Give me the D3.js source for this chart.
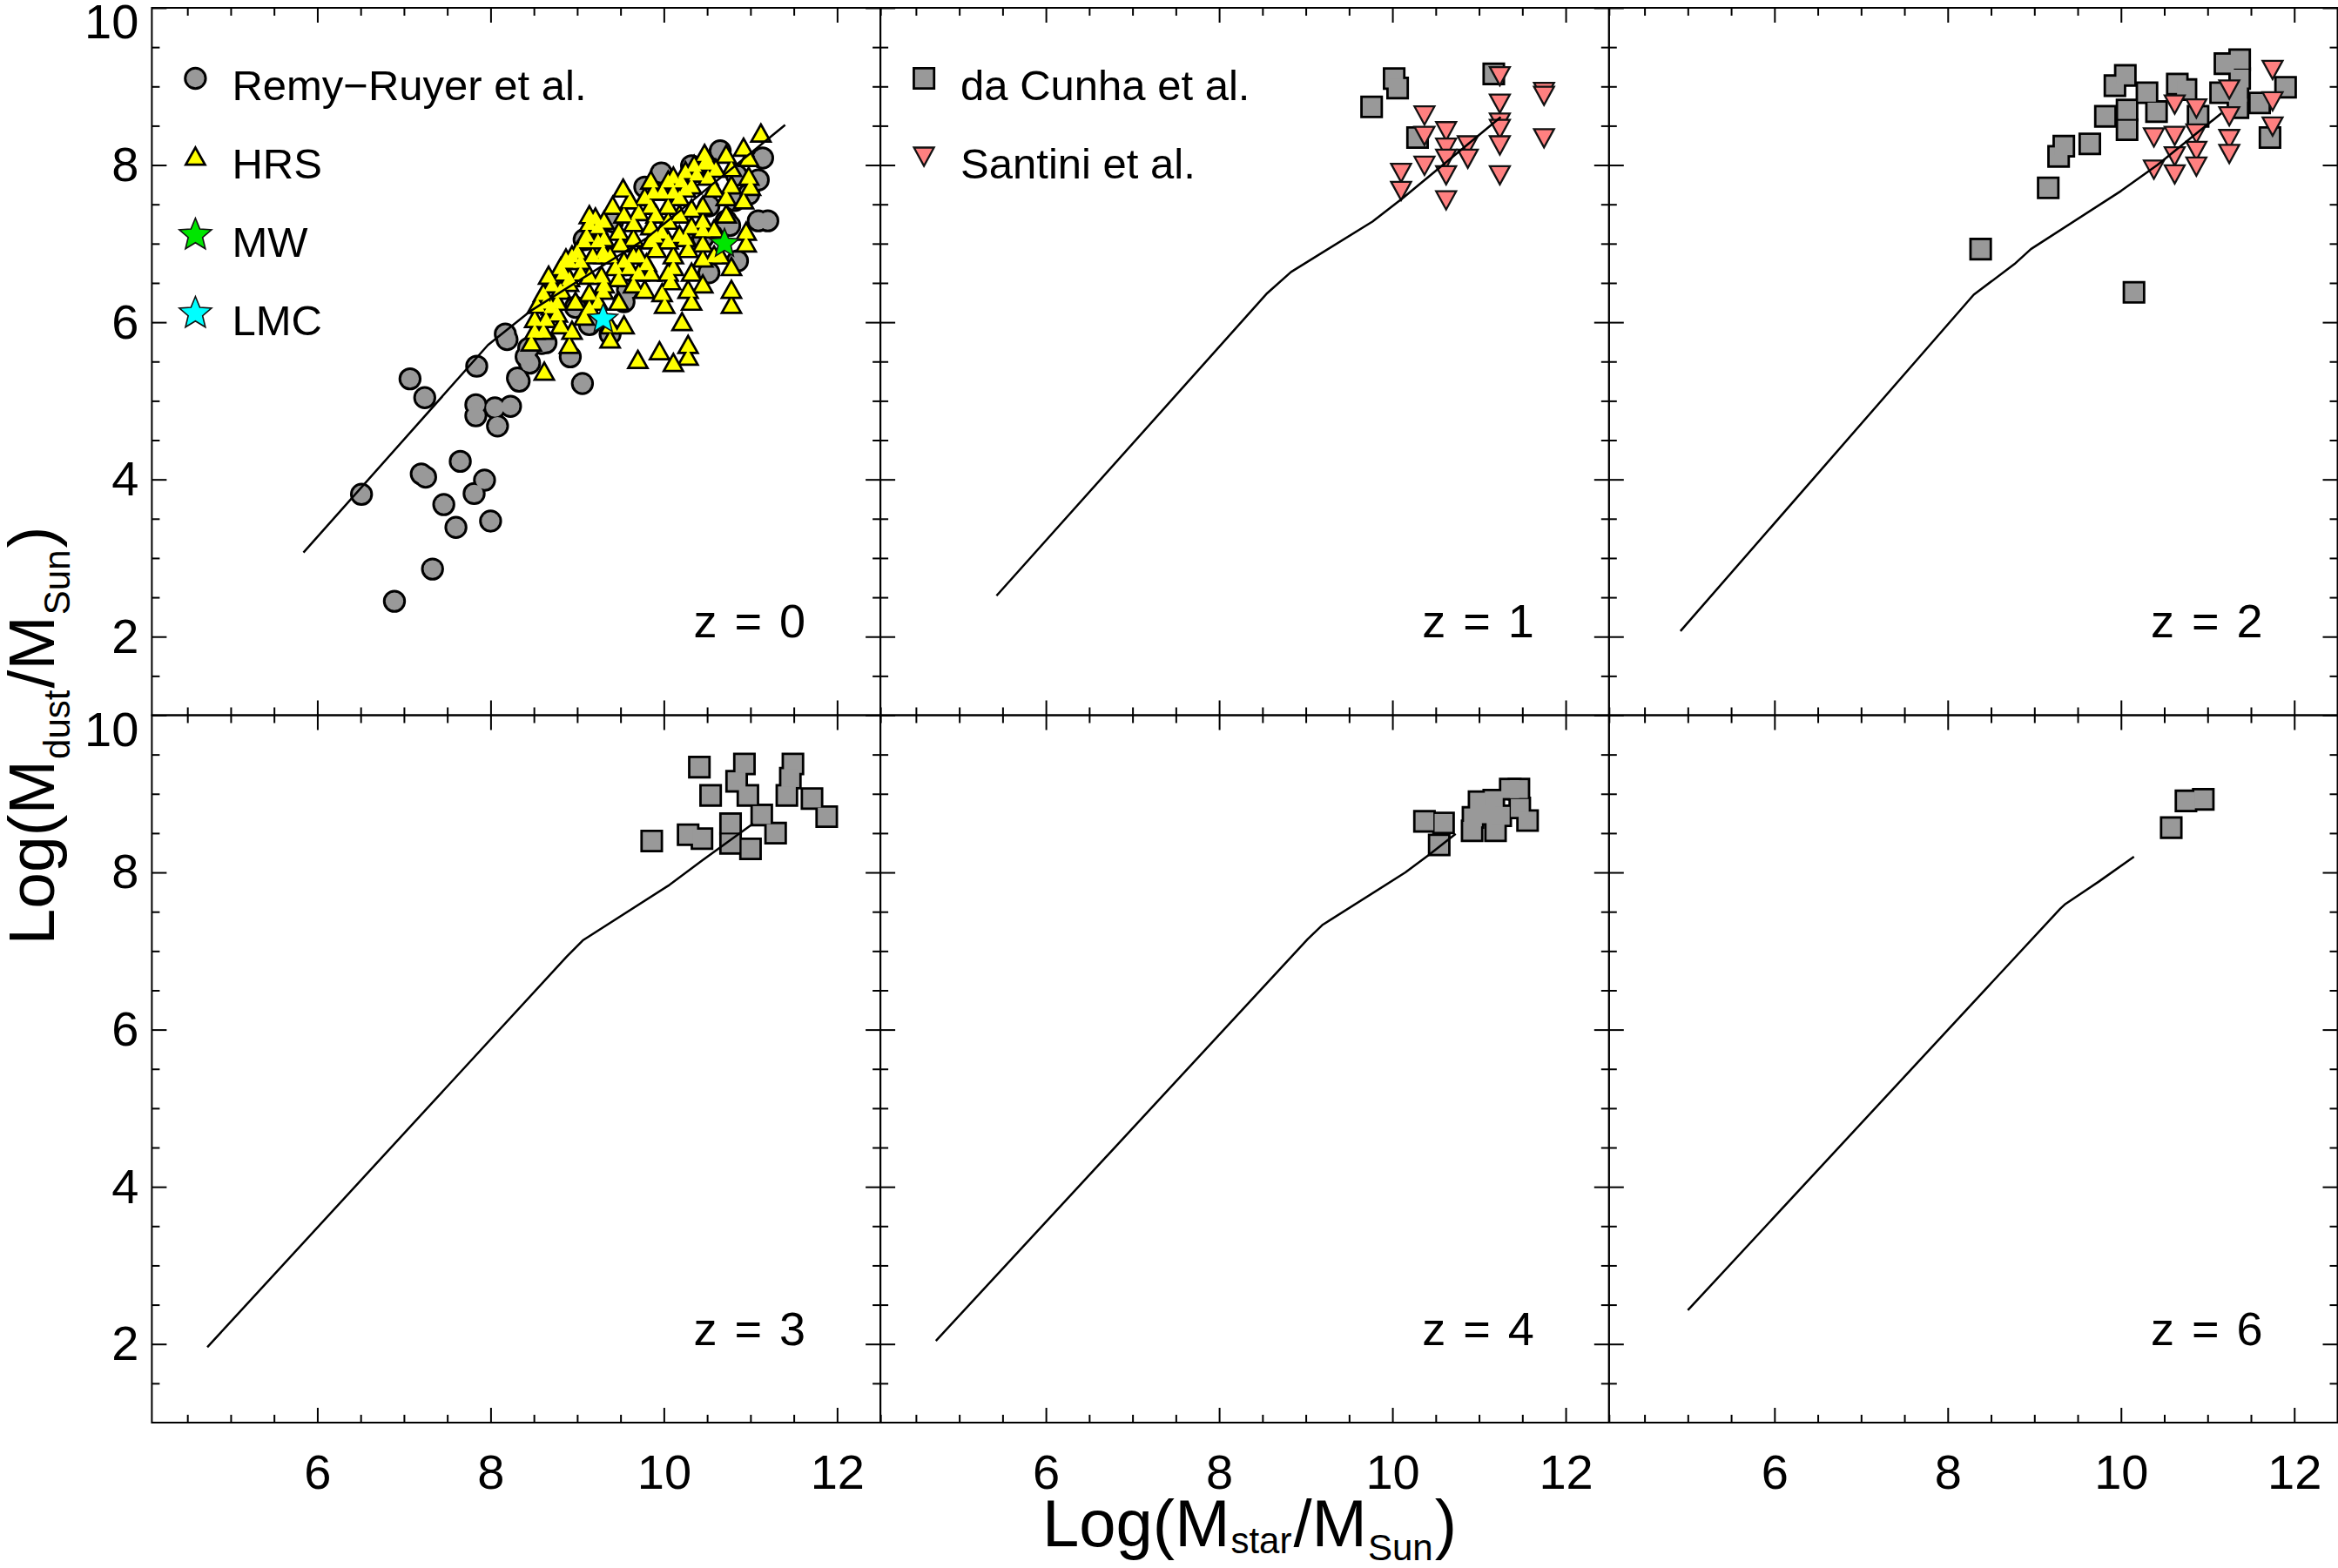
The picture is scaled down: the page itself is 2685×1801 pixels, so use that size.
<!DOCTYPE html>
<html>
<head>
<meta charset="utf-8">
<script src="https://cdn.jsdelivr.net/npm/d3@7"></script>
<style>
  body { margin: 0; background: #fff; }
  svg { display: block; }
</style>
</head>
<body>
<svg id="chart" width="2685" height="1801"></svg>
<script>
// ---------------- DATA ----------------
const xDomain = [4.09, 12.5];
const yDomain = [1, 10];
const xMajorTicks = [6, 8, 10, 12];
const yMajorTicks = [2, 4, 6, 8, 10];
const xMinorTicks = [4.5, 5, 5.5, 6.5, 7, 7.5, 8.5, 9, 9.5, 10.5, 11, 11.5, 12.5];
const yMinorTicks = [1.5, 2.5, 3, 3.5, 4.5, 5, 5.5, 6.5, 7, 7.5, 8.5, 9, 9.5];
const panelLabels = ["z = 0", "z = 1", "z = 2", "z = 3", "z = 4", "z = 6"];
const xTitle = ["Log(M", "star", "/M", "Sun", ")"];
const yTitle = ["Log(M", "dust", "/M", "Sun", ")"];

// model curves (log Mstar, log Mdust)
const model_z0 = [[5.84,3.07],[7.97,5.71],[8.47,6.15],[9.80,7.07],[11.40,8.51]];
const model_z1 = [[5.43,2.52],[8.555,6.37],[8.83,6.64],[9.77,7.28],[10.12,7.58],[11.25,8.61]];
const model_z2 = [[4.915,2.07],[8.30,6.35],[8.77,6.74],[8.96,6.93],[10.0,7.67],[10.42,8.0],[11.16,8.66]];
const model_z3 = [[4.73,1.96],[8.88,6.93],[9.07,7.14],[10.05,7.83],[10.44,8.15],[11.03,8.62]];
const model_z4 = [[4.73,2.04],[9.02,7.15],[9.19,7.33],[10.15,8.0],[10.43,8.23],[10.73,8.49]];
const model_z6 = [[5.0,2.43],[9.30,7.54],[9.36,7.60],[9.74,7.88],[10.15,8.20]];

// observations
const remyRuyer = [[6.51,3.81],[6.89,2.45],[7.07,5.28],[7.24,5.04],[7.20,4.07],[7.25,4.03],[7.33,2.86],[7.46,3.68],
  [7.60,3.39],[7.65,4.23],[7.81,3.82],[7.93,3.99],[8.00,3.47],[7.84,5.44],[7.83,4.95],[7.83,4.81],[8.05,4.91],
  [8.23,4.93],[8.08,4.68],[8.31,5.29],[8.33,5.25],[8.17,5.85],[8.19,5.78],[8.45,5.48],[8.41,5.56],[8.44,5.67],
  [8.59,5.73],[8.64,5.74],[8.92,5.56],[9.06,5.22],[9.14,5.97],[9.38,5.85],[8.98,6.19],[9.54,6.26],[9.58,6.41],
  [9.08,7.05],[9.41,7.28],[9.78,7.72],[9.97,7.90],[10.65,8.18],[11.14,8.09],[11.09,7.81],[10.98,7.63],[11.09,7.29],
  [11.20,7.29],[10.82,7.55],[10.72,7.29],[10.85,6.78],[10.52,6.63],[10.45,7.07],[10.52,7.48],[10.32,7.99],
  [10.84,7.87],[10.76,7.23]];
const hrs = [[11.12,8.40],[10.92,8.22],[10.98,8.09],[10.72,8.13],[10.47,8.14],[10.47,8.03],[10.25,7.92],[10.38,7.89],
  [10.51,7.85],[10.98,7.85],[11.00,7.72],[10.78,7.74],[10.58,7.70],[10.25,7.70],[10.11,7.66],[9.98,7.66],[9.78,7.59],
  [9.53,7.70],[9.61,7.55],[10.45,7.48],[10.72,7.37],[10.45,7.29],[10.32,7.44],[10.18,7.37],[10.05,7.29],[9.91,7.37],
  [9.71,7.40],[9.54,7.37],[9.14,7.26],[9.24,7.22],[9.11,7.11],[9.31,7.07],[9.48,7.15],[9.65,7.07],[9.85,7.04],
  [10.05,7.04],[10.25,7.07],[10.45,7.00],[10.45,7.18],[10.95,7.15],[10.95,7.00],[10.78,6.70],[10.78,6.41],[10.78,6.22],
  [10.45,6.48],[10.45,6.81],[10.32,6.63],[10.28,6.93],[10.11,6.85],[9.91,6.93],[9.71,6.85],[9.54,6.78],[9.38,6.85],
  [9.18,6.85],[8.91,6.78],[8.81,6.70],[9.04,6.63],[9.28,6.59],[9.48,6.56],[9.71,6.63],[10.05,6.63],[10.08,6.52],
  [9.98,6.37],[10.01,6.22],[9.78,6.41],[10.28,6.41],[10.32,6.26],[10.21,6.00],[10.28,5.71],[10.28,5.56],[10.11,5.48],
  [9.95,5.63],[9.70,5.52],[9.54,5.96],[9.38,5.78],[9.38,5.96],[9.48,6.26],[9.14,6.37],[9.24,6.26],[8.98,6.26],
  [8.71,6.48],[8.61,6.37],[8.54,6.22],[8.51,6.04],[8.64,6.04],[8.77,6.11],[8.94,5.89],[8.91,5.71],[8.51,5.89],
  [8.47,5.74],[8.62,5.37],[9.08,6.07],[9.14,6.59],[8.94,6.85],[9.14,7.36],[9.21,7.33],[8.87,6.81],[10.65,6.85],
  [10.20,7.80],[10.60,7.95],[10.35,8.00],[10.05,7.80],[9.85,7.80],[8.80,6.40],[8.90,6.50],[9.00,6.90],[9.30,6.90],
  [9.50,7.00],[9.30,6.40],[8.70,6.20],[9.60,6.70],[9.90,7.10],[9.80,6.75],
  [8.64,6.26],[8.81,6.41],[8.84,6.63],[9.04,6.78],[9.08,7.04],[9.24,7.04],[9.31,6.85],[9.44,6.70],[9.65,6.85],
  [9.65,7.26],[9.85,7.22],[9.85,7.48],[10.05,7.48],[10.18,7.59],[9.98,7.15],[10.18,7.11],[10.32,7.22],[10.58,7.18],
  [10.58,6.85],[10.11,6.70],[9.85,6.63],[9.65,6.48],[9.31,6.48],[9.14,6.19],[8.81,5.96],[8.61,5.89],[8.77,6.26],
  [10.32,7.74],[10.52,8.03],[10.78,7.96],[10.72,7.59],[10.92,7.55],[10.11,7.85],[9.88,7.66],[9.41,7.48],[9.31,7.29],
  [8.91,6.56],[8.67,6.59]];
const milkyWay = [[10.70,7.00]];
const lmc = [[9.30,6.04]];

const daCunha_z1 = [[9.76,8.74],[10.02,9.10],[10.06,8.98],[10.29,8.35],[11.17,9.16]];
const santini_z1 = [[10.10,7.90],[10.10,7.67],[10.37,8.63],[10.37,8.37],[10.37,7.99],[10.62,8.43],[10.62,8.22],
  [10.62,8.08],[10.62,7.87],[10.62,7.55],[10.87,8.25],[10.87,8.08],[11.24,9.13],[11.24,8.78],[11.24,8.54],
  [11.24,8.46],[11.24,8.25],[11.24,7.87],[11.75,8.93],[11.75,8.88],[11.75,8.34]];
const daCunha_z2 = [[8.38,6.93],[9.16,7.71],[9.28,8.11],[9.34,8.24],[9.64,8.27],[9.82,8.62],[10.07,8.70],[10.07,8.45],
  [9.93,9.01],[10.05,9.14],[10.30,8.92],[10.41,8.68],[10.65,9.03],[10.75,8.96],[10.89,8.62],[11.15,8.92],[11.20,9.29],
  [11.37,9.34],[11.35,8.92],[11.35,8.73],[11.37,9.10],[11.60,8.79],[11.72,8.35],[11.90,8.99],[10.15,6.38]];
const santini_z2 = [[10.38,8.35],[10.38,7.94],[10.62,8.77],[10.62,8.37],[10.62,8.11],[10.62,7.88],[10.87,8.72],
  [10.87,8.40],[10.87,8.18],[10.87,7.98],[11.25,8.96],[11.25,8.62],[11.25,8.33],[11.25,8.14],[11.75,9.21],
  [11.75,8.81],[11.75,8.49]];
const daCunha_z3 = [[9.86,8.40],[10.28,8.48],[10.44,8.43],[10.41,9.34],[10.54,8.98],[10.77,8.62],[10.77,8.37],
  [10.84,9.16],[10.93,9.38],[10.97,8.98],[11.00,8.30],[11.13,8.73],[11.29,8.50],[11.42,8.98],[11.49,9.38],
  [11.46,9.20],[11.71,8.94],[11.88,8.71]];
const daCunha_z4 = [[10.37,8.65],[10.59,8.63],[10.54,8.35],[10.92,8.53],[10.93,8.70],[11.00,8.90],[11.17,8.92],
  [11.19,8.53],[11.36,9.06],[11.46,9.06],[11.47,8.82],[11.56,8.66],[11.25,8.72],[11.08,8.74]];
const daCunha_z6 = [[10.58,8.57],[10.75,8.91],[10.95,8.93]];

// ---------------- DRAWING ----------------
const FONT = '"Liberation Sans", Arial, Helvetica, sans-serif';
const svg = d3.select("#chart").attr("font-family", FONT);
svg.append("rect").attr("width", 2685).attr("height", 1801).attr("fill", "#fff");

const W = 836.7, H = 812.5, L0 = 174.4, T0 = 9;

const GRAY = "#999999", YELLOW = "#ffff00", SALMON = "#ff8080", GREEN = "#00e600", CYAN = "#00ffff";

const circlePath = (r) => `M${r},0A${r},${r} 0 1,1 ${-r},0A${r},${r} 0 1,1 ${r},0Z`;
const squarePath = (s) => `M${-s/2},${-s/2}h${s}v${s}h${-s}Z`;
const triUpPath = (w, h) => `M0,${-h/2}L${w/2},${h/2}L${-w/2},${h/2}Z`;
const triDownPath = (w, h) => `M${-w/2},${-h/2}L${w/2},${-h/2}L0,${h/2}Z`;
function starPath(R, r) {
  const pts = [];
  for (let i = 0; i < 10; i++) {
    const a = -Math.PI / 2 + i * Math.PI / 5;
    const rad = i % 2 ? r : R;
    pts.push([rad * Math.cos(a), rad * Math.sin(a)]);
  }
  return "M" + pts.map(p => p[0].toFixed(2) + "," + p[1].toFixed(2)).join("L") + "Z";
}

const SYM = {
  circle: { d: circlePath(10.2), fill: GRAY, sw: 3, union: true },
  triUp: { d: triUpPath(17.5, 15.5), fill: YELLOW, sw: 2.7, union: true },
  square: { d: squarePath(20.5), fill: GRAY, sw: 2.8, union: true },
  triDown: { d: triDownPath(23, 21), fill: SALMON, sw: 2.3, union: false },
  starMW: { d: starPath(17.5, 7.8), fill: GREEN, sw: 1.6, union: false },
  starLMC: { d: starPath(17.5, 7.8), fill: CYAN, sw: 1.6, union: false },
  starMWLeg: { d: starPath(19.5, 8.7), fill: GREEN, sw: 1.6, union: false },
  starLMCLeg: { d: starPath(19.5, 8.7), fill: CYAN, sw: 1.6, union: false }
};

function drawMarks(g, data, sym, x, y) {
  const tr = d => `translate(${x(d[0])},${y(d[1])})`;
  if (sym.union) {
    g.append("g").selectAll("path").data(data).join("path")
      .attr("d", sym.d).attr("transform", tr)
      .attr("fill", "#000").attr("stroke", "#000")
      .attr("stroke-width", 2 * sym.sw).attr("stroke-linejoin", "miter");
    g.append("g").selectAll("path").data(data).join("path")
      .attr("d", sym.d).attr("transform", tr).attr("fill", sym.fill);
  } else {
    g.append("g").selectAll("path").data(data).join("path")
      .attr("d", sym.d).attr("transform", tr)
      .attr("fill", sym.fill).attr("stroke", "#111")
      .attr("stroke-width", sym.sw).attr("stroke-linejoin", "miter");
  }
}

function styleAxis(sel) {
  sel.select(".domain").remove();
  sel.selectAll(".tick line").attr("stroke", "#000").attr("stroke-width", 2);
  sel.selectAll(".tick text").attr("fill", "#000");
  sel.attr("font-size", 56).attr("font-family", FONT);
}

function drawAxes(g, x, y, showX, showY) {
  const big = 17, small = 9;
  const none = () => "";
  g.append("g").attr("transform", `translate(0,${H})`)
    .call(d3.axisBottom(x).tickValues(xMajorTicks).tickSizeInner(-big).tickSizeOuter(0)
      .tickPadding(36).tickFormat(showX ? d3.format("d") : none)).call(styleAxis);
  g.append("g").attr("transform", `translate(0,${H})`)
    .call(d3.axisBottom(x).tickValues(xMinorTicks).tickSizeInner(-small).tickSizeOuter(0).tickFormat(none)).call(styleAxis);
  g.append("g")
    .call(d3.axisTop(x).tickValues(xMajorTicks).tickSizeInner(-big).tickSizeOuter(0).tickFormat(none)).call(styleAxis);
  g.append("g")
    .call(d3.axisTop(x).tickValues(xMinorTicks).tickSizeInner(-small).tickSizeOuter(0).tickFormat(none)).call(styleAxis);
  const la = g.append("g")
    .call(d3.axisLeft(y).tickValues(yMajorTicks).tickSizeInner(-big).tickSizeOuter(0)
      .tickPadding(15).tickFormat(showY ? d3.format("d") : none)).call(styleAxis);
  la.selectAll(".tick text").attr("dy", d => d === 10 ? "0.62em" : "0.32em");
  g.append("g")
    .call(d3.axisLeft(y).tickValues(yMinorTicks).tickSizeInner(-small).tickSizeOuter(0).tickFormat(none)).call(styleAxis);
  g.append("g").attr("transform", `translate(${W},0)`)
    .call(d3.axisRight(y).tickValues(yMajorTicks).tickSizeInner(-big).tickSizeOuter(0).tickFormat(none)).call(styleAxis);
  g.append("g").attr("transform", `translate(${W},0)`)
    .call(d3.axisRight(y).tickValues(yMinorTicks).tickSizeInner(-small).tickSizeOuter(0).tickFormat(none)).call(styleAxis);
  g.append("rect").attr("width", W).attr("height", H)
    .attr("fill", "none").attr("stroke", "#000").attr("stroke-width", 2);
}

const panels = [
  { label: panelLabels[0], model: model_z0, col: 0, row: 0,
    sets: [[remyRuyer, "circle"], [hrs, "triUp"], [milkyWay, "starMW"], [lmc, "starLMC"]],
    legend: [["circle", "Remy\u2212Ruyer et al."], ["triUp", "HRS"], ["starMWLeg", "MW"], ["starLMCLeg", "LMC"]] },
  { label: panelLabels[1], model: model_z1, col: 1, row: 0,
    sets: [[daCunha_z1, "square"], [santini_z1, "triDown"]],
    legend: [["square", "da Cunha et al."], ["triDown", "Santini et al."]] },
  { label: panelLabels[2], model: model_z2, col: 2, row: 0,
    sets: [[daCunha_z2, "square"], [santini_z2, "triDown"]], legend: [] },
  { label: panelLabels[3], model: model_z3, col: 0, row: 1,
    sets: [[daCunha_z3, "square"]], legend: [] },
  { label: panelLabels[4], model: model_z4, col: 1, row: 1,
    sets: [[daCunha_z4, "square"]], legend: [] },
  { label: panelLabels[5], model: model_z6, col: 2, row: 1,
    sets: [[daCunha_z6, "square"]], legend: [] }
];

panels.forEach(p => {
  const g = svg.append("g").attr("transform", `translate(${L0 + p.col * W},${T0 + p.row * H})`);
  const x = d3.scaleLinear().domain(xDomain).range([0, W]);
  const y = d3.scaleLinear().domain(yDomain).range([H, 0]);

  drawAxes(g, x, y, p.row === 1, p.col === 0);

  p.sets.forEach(([data, sym]) => drawMarks(g, data, SYM[sym], x, y));

  g.append("path").datum(p.model)
    .attr("d", d3.line().x(d => x(d[0])).y(d => y(d[1])))
    .attr("fill", "none").attr("stroke", "#000").attr("stroke-width", 2.5)
    .attr("stroke-linejoin", "round");

  g.append("text").attr("x", W - 86).attr("y", y(2) + 1)
    .attr("text-anchor", "end").attr("font-size", 54).style("word-spacing", "5px")
    .attr("fill", "#000").text(p.label);

  p.legend.forEach(([sym, txt], i) => {
    const lg = g.append("g");
    const lx = d3.scaleLinear().domain([0, 1]).range([50, 51]);
    const ly = d3.scaleLinear().domain([0, 1]).range([81 + 90 * i, 82 + 90 * i]);
    drawMarks(lg, [[0, 0]], SYM[sym], lx, ly);
    lg.append("text").attr("x", 92).attr("y", 106.4 + 90 * i)
      .attr("font-size", 49).attr("fill", "#000").text(txt);
  });
});

// axis titles
const xt = svg.append("text").attr("x", 1435).attr("y", 1776)
  .attr("text-anchor", "middle").attr("font-size", 76).attr("fill", "#000");
xt.append("tspan").text(xTitle[0]);
xt.append("tspan").attr("font-size", 42).attr("dx", 1).attr("dy", 8).text(xTitle[1]);
xt.append("tspan").attr("dx", 2).attr("dy", -8).text(xTitle[2]);
xt.append("tspan").attr("font-size", 42).attr("dx", 1).attr("dy", 16).text(xTitle[3]);
xt.append("tspan").attr("dx", 2).attr("dy", -16).text(xTitle[4]);

const yt = svg.append("text").attr("transform", "translate(62,845) rotate(-90)")
  .attr("text-anchor", "middle").attr("font-size", 75).attr("fill", "#000");
yt.append("tspan").text(yTitle[0]);
yt.append("tspan").attr("font-size", 42).attr("dx", 1).attr("dy", 18).text(yTitle[1]);
yt.append("tspan").attr("dx", 2).attr("dy", -18).text(yTitle[2]);
yt.append("tspan").attr("font-size", 42).attr("dx", 1).attr("dy", 18).text(yTitle[3]);
yt.append("tspan").attr("dx", 2).attr("dy", -18).text(yTitle[4]);
</script>
</body>
</html>
